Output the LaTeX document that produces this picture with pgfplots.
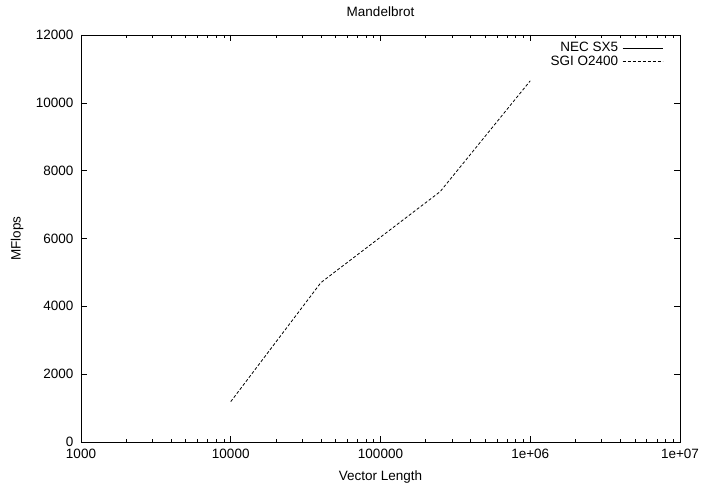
\documentclass[border=0pt]{standalone}
\usepackage{fontspec}
\setmainfont{Liberation Sans}
\usepackage{pgfplots}
\pgfplotsset{compat=1.18}
\begin{document}
\begin{tikzpicture}[x=1pt,y=1pt]
\path[use as bounding box] (-81,-47) rectangle (620,442);
\begin{axis}[
  at={(0,0)}, anchor=south west,
  scale only axis, width=599pt, height=407pt,
  xmode=log, xmin=1000, xmax=1e7,
  ymin=0, ymax=12000,
  xtick={1000,10000,100000,1000000,10000000},
  xticklabels={1000,10000,100000,1e+06,1e+07},
  ytick={0,2000,4000,6000,8000,10000,12000},
  scaled y ticks=false,
  /pgf/number format/1000 sep={},
  /pgf/number format/assume math mode=true,
  tick align=inside, tick pos=both,
  major tick length=6pt, minor tick length=3pt,
  every tick/.style={black, line width=0.6pt},
  axis line style={line width=0.8pt},
  tick label style={font=\fontsize{13.5}{16}\selectfont},
  xticklabel style={yshift=-4pt},
  yticklabel style={xshift=-4pt},
  label style={font=\fontsize{13.5}{16}\selectfont},
  every axis title shift=0pt,
  title style={font=\fontsize{13.5}{16}\selectfont, at={(axis description cs:0.5,1.0565)}, anchor=center},
  xlabel style={at={(axis description cs:0.5,-0.0853)}, anchor=center},
  ylabel style={at={(axis description cs:-0.1068,0.5)}, anchor=center},
  title={Mandelbrot},
  xlabel={Vector Length},
  ylabel={MFlops},
  legend style={at={(axis description cs:0.977,0.992)}, anchor=north east,
    draw=none, fill=none, font=\fontsize{13.5}{16}\selectfont,
    row sep=-1pt, /tikz/every odd column/.append style={column sep=2pt}},
  legend plot pos=right,
  legend cell align=right,
  legend image code/.code={\draw[#1] (0pt,0pt) -- (40pt,0pt);},
]
\addlegendimage{black, solid, line width=0.8pt}
\addlegendentry{NEC SX5}
\addplot[black, line width=0.8pt, dash pattern=on 3pt off 2pt] coordinates {
  (10000,1190) (40000,4700) (250000,7380) (1000000,10650)
};
\addlegendentry{SGI O2400}
\end{axis}
\end{tikzpicture}
\end{document}
